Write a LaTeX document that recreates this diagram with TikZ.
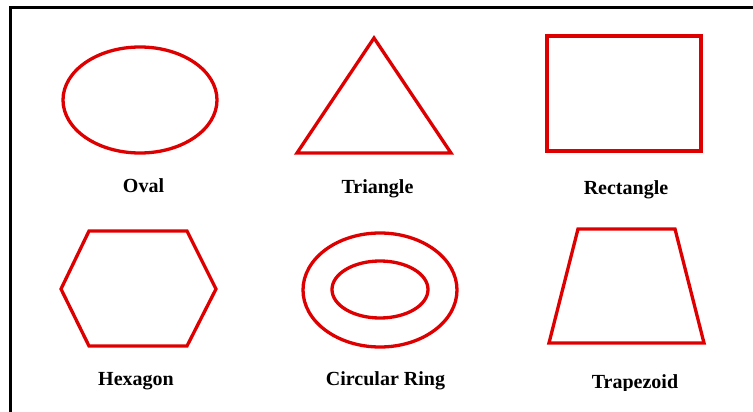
\documentclass[tikz,border=0pt]{standalone}
\usepackage{fontspec}
\setmainfont{Liberation Serif}
\definecolor{shapered}{RGB}{222,0,0}
\begin{document}
\begin{tikzpicture}[x=1pt,y=-1pt,
  shp/.style={draw=shapered,line width=3.3pt,line join=miter},
  lbl/.style={anchor=base,inner sep=0pt,font=\fontsize{20}{24}\selectfont\bfseries}]
\useasboundingbox (0,0) rectangle (753,412);
\fill[white] (0,0) rectangle (753,412);
% border
\draw[line width=3.3pt] (10.5,412) -- (10.5,7.5) -- (753,7.5);
% Oval
\draw[shp] (140,100) ellipse [x radius=77, y radius=53];
% Triangle
\draw[shp] (374,38) -- (451,153) -- (297,153) -- cycle;
% Rectangle
\draw[shp] (547,36) rectangle (701,151);
% Hexagon
\draw[shp] (89,231) -- (187,231) -- (216,289) -- (187,346) -- (89,346) -- (61,289) -- cycle;
% Circular ring
\draw[shp] (380,290) ellipse [x radius=77, y radius=57];
\draw[shp] (380,289.5) ellipse [x radius=48, y radius=28.5];
% Trapezoid
\draw[shp] (578,229) -- (675,229) -- (704,343) -- (549,343) -- cycle;
% Labels
\node[lbl] (oval) at (143.5,192) {Oval};
\node[lbl] (tri) at (377.5,193) {Triangle};
\node[lbl] (rect) at (626,194) {Rectangle};
\node[lbl] (hex) at (136,385) {Hexagon};
\node[lbl] (ring) at (385.5,385) {Circular Ring};
\begin{scope}
\clip (0,0) rectangle (753,390);
\node[lbl] (trap) at (635,388) {Trapezoid};
\end{scope}
\end{tikzpicture}
\end{document}
